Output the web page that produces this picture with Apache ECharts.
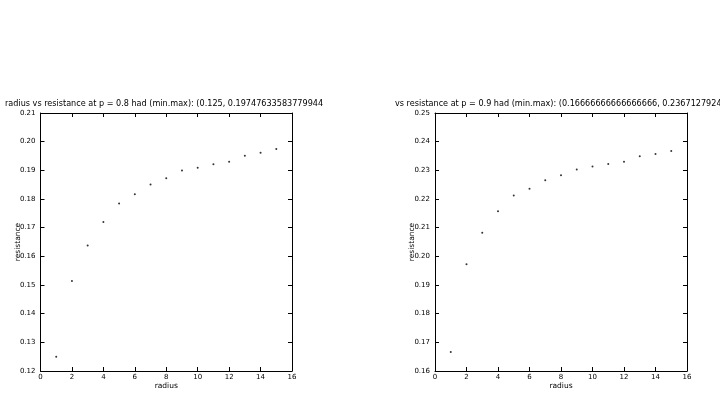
<!DOCTYPE html>
<html><head><meta charset="utf-8">
<script src="https://cdn.jsdelivr.net/npm/echarts@6/dist/echarts.min.js"></script>
<style>html,body{margin:0;padding:0;background:#fff}#c{width:720px;height:405px}</style>
</head><body><div id="c"></div>
<script>
const radius = [1,2,3,4,5,6,7,8,9,10,11,12,13,14,15];
const resP08 = [0.125,0.1514,0.1638,0.1720,0.1784,0.1817,0.1851,0.1872,0.1899,0.1909,0.1921,0.1930,0.1951,0.1961,0.19747633583779944];
const resP09 = [0.16666666666666666,0.1972,0.2082,0.2157,0.2212,0.2236,0.2265,0.2283,0.2303,0.2313,0.2322,0.2330,0.2349,0.2357,0.2367127924];
const titleLeft = "radius vs resistance at p = 0.8 had (min.max): (0.125, 0.19747633583779944";
const titleRight = "vs resistance at p = 0.9 had (min.max): (0.16666666666666666, 0.23671279240";
const xLabel = "radius", yLabel = "resistance";

const FONT = "DejaVu Sans";
const chart = echarts.init(document.getElementById('c'));
const grids = [
  {left: 40.5, top: 113, width: 251.5, height: 258},
  {left: 435, top: 113, width: 252, height: 258}
];
const yRanges = [[0.12, 0.21], [0.16, 0.25]];
const xAxes = [], yAxes = [], series = [];
grids.forEach((g, i) => {
  const common = {
    gridIndex: i, type: 'value',
    axisLine: {show: true, onZero: false, lineStyle: {color: '#000', width: 1}},
    axisTick: {show: true, inside: true, length: 4, lineStyle: {color: '#000'}},
    splitLine: {show: false}
  };
  xAxes.push(Object.assign({}, common, {
    position: 'bottom', min: 0, max: 16, interval: 2,
    name: xLabel, nameLocation: 'middle', nameGap: 11, nameMoveOverlap: false,
    nameTextStyle: {fontFamily: FONT, fontSize: 7.5, color: '#000'},
    axisLabel: {fontFamily: FONT, fontSize: 7, color: '#000', margin: 3}
  }));
  xAxes.push(Object.assign({}, common, {
    position: 'top', min: 0, max: 16, interval: 2, axisLabel: {show: false}
  }));
  yAxes.push(Object.assign({}, common, {
    position: 'left', min: yRanges[i][0], max: yRanges[i][1], interval: 0.01,
    name: yLabel, nameLocation: 'middle', nameGap: 18.5, nameMoveOverlap: false,
    nameTextStyle: {fontFamily: FONT, fontSize: 7.5, color: '#000'},
    axisLabel: {fontFamily: FONT, fontSize: 7, color: '#000', margin: 5,
      formatter: v => v.toFixed(2)}
  }));
  yAxes.push(Object.assign({}, common, {
    position: 'right', min: yRanges[i][0], max: yRanges[i][1], interval: 0.01,
    axisLabel: {show: false}
  }));
});
[resP08, resP09].forEach((vals, i) => {
  series.push({
    type: 'scatter', xAxisIndex: i * 2, yAxisIndex: i * 2,
    symbol: 'circle', symbolSize: 2,
    itemStyle: {color: '#000'},
    data: radius.map((r, k) => [r, vals[k]])
  });
});
chart.setOption({
  animation: false,
  grid: grids,
  xAxis: xAxes, yAxis: yAxes, series: series,
  graphic: [
    {type: 'text', left: 5, top: 100, style: {text: titleLeft, font: '8.1px "DejaVu Sans"', fill: '#000'}},
    {type: 'text', left: 395, top: 100, style: {text: titleRight, font: '8.1px "DejaVu Sans"', fill: '#000'}}
  ]
});
</script></body></html>
